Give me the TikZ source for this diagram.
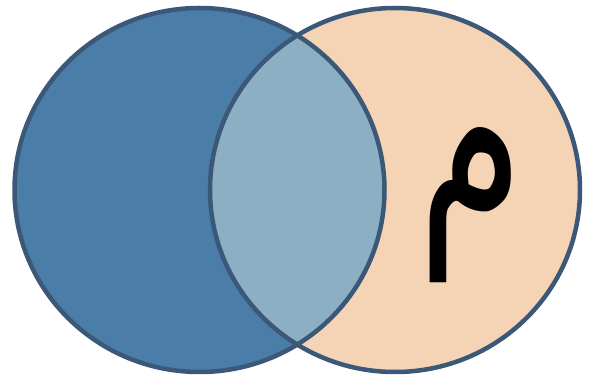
\documentclass[tikz,border=0pt]{standalone}
\usepackage{fontspec}
\newfontfamily\arabicfont[Script=Arabic]{DejaVu Sans}
\TeXXeTstate=1
\definecolor{setblue}{HTML}{4A7EA8}
\definecolor{setpeach}{HTML}{F5D3B5}
\definecolor{setlens}{HTML}{8CAFC4}
\definecolor{setedge}{HTML}{3C5878}

\begin{document}
\begin{tikzpicture}[x=1pt,y=-1pt]
\useasboundingbox (0,0) rectangle (592,379);
\path[fill=setblue] (199.5,190) ellipse [x radius=185,y radius=182];
\path[fill=setpeach] (395,190) ellipse [x radius=185,y radius=182];
\begin{scope}
\clip (199.5,190) ellipse [x radius=185,y radius=182];
\path[fill=setlens] (395,190) ellipse [x radius=185,y radius=182];
\end{scope}
\draw[setedge,line width=4.5pt] (199.5,190) ellipse [x radius=185,y radius=182];
\draw[setedge,line width=4.5pt] (395,190) ellipse [x radius=185,y radius=182];
\node[inner sep=0pt] (meem) at (471,205) {\scalebox{1}[1.5]{\arabicfont\fontsize{170}{170}\selectfont\beginR م\endR}};
\end{tikzpicture}
\end{document}
